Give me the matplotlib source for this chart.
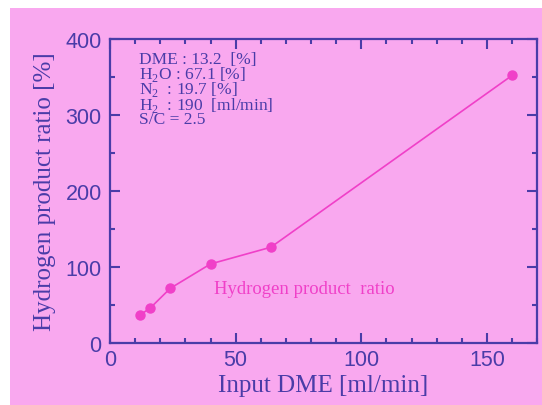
import matplotlib
matplotlib.use('Agg')
import matplotlib.pyplot as plt
from matplotlib.patches import Rectangle
from matplotlib.ticker import MultipleLocator

# data
dme_input = [12, 16, 24, 40, 64, 160]
h2_ratio = [37, 46, 72, 104, 126, 352]
conditions = [
  'DME : 13.2  [%]',
  r'H$_2$O : 67.1 [%]',
  r'N$_2$  : 19.7 [%]',
  r'H$_2$  : 190  [ml/min]',
  'S/C = 2.5',
]

bg = '#F9A8EF'
ink = '#4A3CA8'
pink = '#F040C8'

plt.rcParams['font.family'] = 'Liberation Serif'
plt.rcParams['mathtext.fontset'] = 'custom'
plt.rcParams['mathtext.rm'] = 'Liberation Serif'

fig = plt.figure(figsize=(5.42, 4.06), dpi=100)
fig.patch.set_facecolor('white')
# pink panel leaves a thin white strip on the left and top
fig.add_artist(Rectangle((10 / 542, 0), 1, 397 / 406, transform=fig.transFigure,
                         facecolor=bg, edgecolor='none', zorder=-10))

ax = fig.add_axes([0.203, 0.1527, 0.788, 0.7488])
ax.set_facecolor(bg)
ax.plot(dme_input, h2_ratio, color=pink, lw=1.2, marker='o', ms=6.5, mec=pink, mfc=pink)

ax.set_xlim(0, 170)
ax.set_ylim(0, 400)
ax.xaxis.set_major_locator(MultipleLocator(50))
ax.xaxis.set_minor_locator(MultipleLocator(10))
ax.yaxis.set_major_locator(MultipleLocator(100))
ax.yaxis.set_minor_locator(MultipleLocator(50))
ax.tick_params(which='both', direction='in', top=True, right=True, color=ink, width=1.5)
ax.tick_params(which='major', length=7, labelsize=15.5, labelcolor=ink)
ax.tick_params(axis='x', which='major', pad=4)
ax.tick_params(axis='y', which='major', pad=6)
ax.tick_params(which='minor', length=3.5)
for lab in ax.get_xticklabels() + ax.get_yticklabels():
  lab.set_family('Liberation Sans')
for sp in ax.spines.values():
  sp.set_color(ink)
  sp.set_linewidth(1.6)

ax.set_xlabel('Input DME [ml/min]', fontsize=18, color=ink, labelpad=3)
ax.set_ylabel('Hydrogen product ratio [%]', fontsize=18, color=ink, labelpad=7)

# condition block in the upper left
ax.text(0.067, 0.96, '\n'.join(conditions), transform=ax.transAxes, fontsize=12.5,
        color=ink, va='top', ha='left', linespacing=0.76)

ax.text(41.5, 72, 'Hydrogen product  ratio', fontsize=13.5, color=pink, va='center')

fig.savefig('out.png', dpi=100, facecolor=fig.get_facecolor())
